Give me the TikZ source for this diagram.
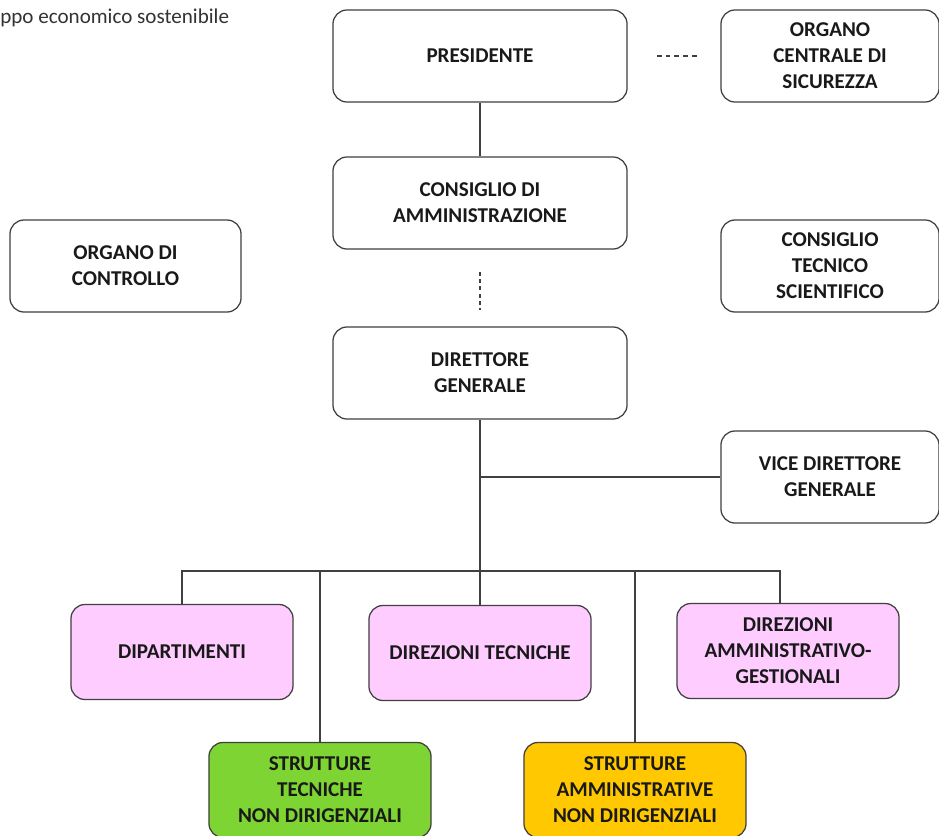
\documentclass[tikz,border=0pt]{standalone}
\usepackage{fontspec}
\setmainfont{Carlito}
\usepackage{xcolor}
\usepackage{tikz}
\usetikzlibrary{positioning, calc}

\definecolor{boxline}{HTML}{404040}
\definecolor{rosa}{HTML}{FFCCFF}
\definecolor{verde}{HTML}{7ED432}
\definecolor{giallo}{HTML}{FFC800}

\begin{document}
\begin{tikzpicture}[
    x=0.025cm, y=-0.025cm,
    org/.style   = {draw=boxline, line width=0.9pt, rectangle, rounded corners=0.35cm,
                    minimum width=7.35cm, minimum height=2.3cm,
                    align=center, fill=white, text=black!90,
                    font=\fontsize{15}{18.4}\selectfont\bfseries},
    side/.style  = {org, minimum width=5.45cm},
    sub/.style   = {org, minimum width=5.55cm, minimum height=2.375cm},
    conn/.style  = {line width=0.9pt, draw=boxline},
    dashconn/.style = {conn, dash pattern=on 3.5pt off 2.8pt},
]
    \useasboundingbox (0,0) rectangle (939,835);
    \clip (0,0) rectangle (939,835);

    % ── Testo in alto ──
    \node[anchor=base west, inner sep=0pt, text=black!80,
          font=\fontsize{15}{17}\selectfont] (titolo) at (0,23) {ppo economico sostenibile};

    % ── Vertice ──
    \node[org] (pres) at (480, 56) {PRESIDENTE};
    \node[side] (ocs) at (830, 56) {ORGANO\\CENTRALE DI\\SICUREZZA};
    \node[org] (cda) at (480, 203) {CONSIGLIO DI\\AMMINISTRAZIONE};
    \node[side, minimum width=5.775cm] (ctrl) at (125.5, 266) {ORGANO DI\\CONTROLLO};
    \node[side] (cts) at (830, 266) {CONSIGLIO\\TECNICO\\SCIENTIFICO};
    \node[org] (dg) at (480, 373) {DIRETTORE\\GENERALE};
    \node[side] (vdg) at (830, 477) {VICE DIRETTORE\\GENERALE};

    % ── Strutture ──
    \node[sub, fill=rosa] (dip) at (182, 652) {DIPARTIMENTI};
    \node[sub, fill=rosa] (dt) at (480, 653) {DIREZIONI TECNICHE};
    \node[sub, fill=rosa] (dag) at (788, 651) {DIREZIONI\\AMMINISTRATIVO-\\GESTIONALI};
    \node[sub, fill=verde] (stt) at (320, 790) {STRUTTURE\\TECNICHE\\NON DIRIGENZIALI};
    \node[sub, fill=giallo] (sta) at (635, 790) {STRUTTURE\\AMMINISTRATIVE\\NON DIRIGENZIALI};

    \coordinate (bus) at (480, 571);

    % ── Collegamenti ──
    \draw[conn] (pres) -- (cda);
    \draw[dashconn, shorten <=0.725cm, shorten >=0.5cm] (pres) -- (ocs);
    \draw[conn, dash pattern=on 3pt off 2.2pt, shorten <=0.55cm, shorten >=0.4cm] (cda) -- (dg);
    \draw[conn] (dg.south) -- (bus);
    \draw[conn] (dg.south |- vdg.west) -- (vdg.west);
    \draw[conn] (dip.north) |- (bus) -| ([xshift=-0.2cm]dag.north);
    \draw[conn] (dt.north) -- (bus);
    \draw[conn] (stt.north) |- (bus) -| (sta.north);

\end{tikzpicture}
\end{document}
